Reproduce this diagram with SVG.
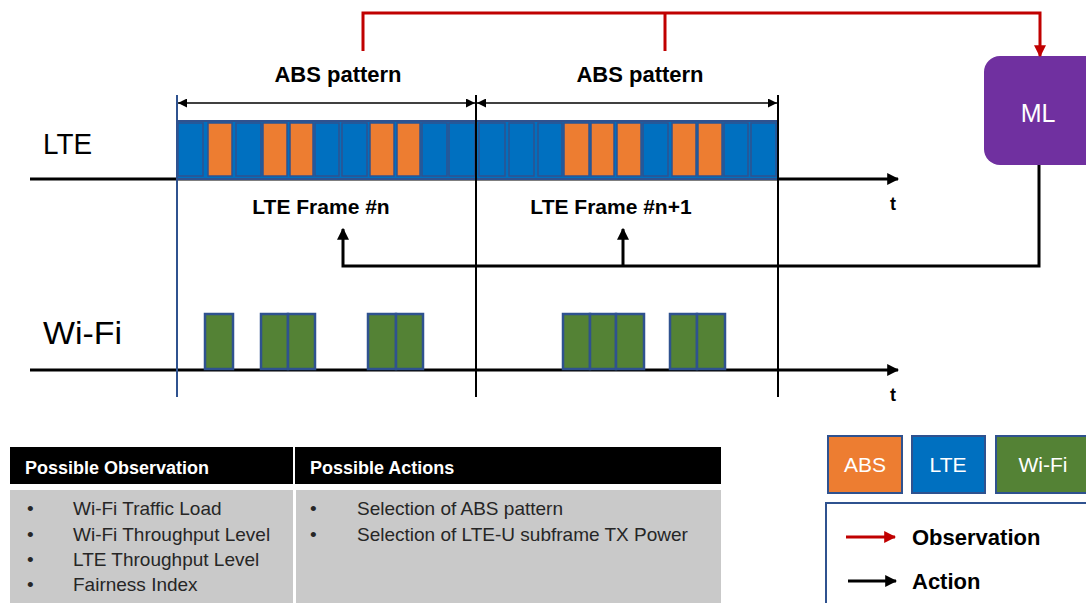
<svg xmlns="http://www.w3.org/2000/svg" width="1086" height="603" viewBox="0 0 1086 603">
  <style>
    .lbl { font-family: "Liberation Sans", Arial, sans-serif; fill: #000; }
    .b { font-weight: bold; }
    .wt { font-family: "Liberation Sans", Arial, sans-serif; fill: #fff; }
    .lte { fill: #0070C0; stroke: #2F528F; stroke-width: 1.5; }
    .abs { fill: #ED7D31; stroke: #2F528F; stroke-width: 1.5; }
    .wifi { fill: #548235; stroke: #2F528F; stroke-width: 2.5; }
    .axis { stroke: #000; stroke-width: 3; fill: none; }
    .obs { stroke: #C00000; stroke-width: 3; fill: none; }
    .act { stroke: #000; stroke-width: 3; fill: none; }
    .tbl { font-family: "Liberation Sans", Arial, sans-serif; font-size: 19px; fill: #262626; }
  </style>
  <defs>
    <marker id="ah" viewBox="0 0 10 10" refX="9" refY="5" markerWidth="4" markerHeight="4" orient="auto">
      <path d="M0,0 L10,5 L0,10 z" fill="#000"/>
    </marker>
    <marker id="ahr" viewBox="0 0 10 10" refX="9" refY="5" markerWidth="4" markerHeight="4" orient="auto">
      <path d="M0,0 L10,5 L0,10 z" fill="#C00000"/>
    </marker>
    <marker id="dim" viewBox="0 0 10 10" refX="10" refY="5" markerWidth="9" markerHeight="9" orient="auto-start-reverse" markerUnits="userSpaceOnUse">
      <path d="M0,0 L10,5 L0,10 z" fill="#000"/>
    </marker>
  </defs>

  <!-- time axes -->
  <g id="axes">
    <line class="axis" x1="30" y1="179" x2="898" y2="179" marker-end="url(#ah)"/>
    <line class="axis" x1="30" y1="370" x2="898" y2="370" marker-end="url(#ah)"/>
    <text class="lbl b" x="890" y="210" font-size="18">t</text>
    <text class="lbl b" x="890" y="401" font-size="18">t</text>
  </g>

  <!-- LTE subframes -->
  <g id="lte-frames">
    <rect x="177" y="121" width="601" height="58" fill="#0070C0" stroke="#2F528F" stroke-width="2"/>
    <rect class="lte" x="178" y="123" width="25" height="53"/>
    <rect class="abs" x="208" y="123" width="24" height="53"/>
    <rect class="lte" x="236" y="123" width="25" height="53"/>
    <rect class="abs" x="263" y="123" width="24" height="53"/>
    <rect class="abs" x="290" y="123" width="23" height="53"/>
    <rect class="lte" x="315" y="123" width="24" height="53"/>
    <rect class="lte" x="342" y="123" width="25" height="53"/>
    <rect class="abs" x="370" y="123" width="24" height="53"/>
    <rect class="abs" x="397" y="123" width="23" height="53"/>
    <rect class="lte" x="422" y="123" width="25" height="53"/>
    <rect class="lte" x="449" y="123" width="26" height="53"/>

    <rect class="lte" x="479" y="123" width="26" height="53"/>
    <rect class="lte" x="509" y="123" width="25" height="53"/>
    <rect class="lte" x="538" y="123" width="24" height="53"/>
    <rect class="abs" x="564" y="123" width="25" height="53"/>
    <rect class="abs" x="591" y="123" width="23" height="53"/>
    <rect class="abs" x="617" y="123" width="24" height="53"/>
    <rect class="lte" x="643" y="123" width="25" height="53"/>
    <rect class="abs" x="672" y="123" width="24" height="53"/>
    <rect class="abs" x="698" y="123" width="24" height="53"/>
    <rect class="lte" x="724" y="123" width="24" height="53"/>
    <rect class="lte" x="751" y="123" width="25" height="53"/>
  </g>

  <!-- Wi-Fi transmissions -->
  <g id="wifi-frames">
    <rect class="wifi" x="205" y="314" width="28" height="55"/>
    <rect class="wifi" x="261" y="314" width="27" height="55"/>
    <rect class="wifi" x="288" y="314" width="27" height="55"/>
    <rect class="wifi" x="368" y="314" width="28" height="55"/>
    <rect class="wifi" x="396" y="314" width="27" height="55"/>
    <rect class="wifi" x="563" y="314" width="27" height="55"/>
    <rect class="wifi" x="590" y="314" width="26" height="55"/>
    <rect class="wifi" x="616" y="314" width="28" height="55"/>
    <rect class="wifi" x="670" y="314" width="27" height="55"/>
    <rect class="wifi" x="697" y="314" width="28" height="55"/>
  </g>

  <!-- frame boundaries and ABS pattern spans -->
  <g id="frame-bounds">
    <line x1="177" y1="95" x2="177" y2="397" stroke="#2F528F" stroke-width="2"/>
    <line x1="476" y1="95" x2="476" y2="397" stroke="#000" stroke-width="2"/>
    <line x1="778" y1="95" x2="778" y2="397" stroke="#000" stroke-width="2"/>
    <line x1="178" y1="103" x2="475" y2="103" stroke="#000" stroke-width="1.5" marker-start="url(#dim)" marker-end="url(#dim)"/>
    <line x1="477" y1="103" x2="777" y2="103" stroke="#000" stroke-width="1.5" marker-start="url(#dim)" marker-end="url(#dim)"/>
    <text class="lbl b" x="338" y="82" font-size="22" text-anchor="middle">ABS pattern</text>
    <text class="lbl b" x="640" y="82" font-size="22" text-anchor="middle">ABS pattern</text>
    <text class="lbl b" x="321" y="214" font-size="21" text-anchor="middle">LTE Frame #n</text>
    <text class="lbl b" x="611" y="214" font-size="21" text-anchor="middle">LTE Frame #n+1</text>
  </g>

  <!-- row labels -->
  <g id="row-labels">
    <text class="lbl" x="43" y="154" font-size="30" textLength="49" lengthAdjust="spacingAndGlyphs">LTE</text>
    <text class="lbl" x="43" y="344" font-size="32" textLength="79" lengthAdjust="spacingAndGlyphs">Wi-Fi</text>
  </g>

  <!-- ML agent -->
  <g id="ml">
    <rect x="984" y="56" width="130" height="109" rx="16" fill="#7030A0"/>
    <text class="wt" x="1038" y="122" font-size="25" text-anchor="middle">ML</text>
  </g>

  <!-- observation and action paths -->
  <g id="connectors">
    <polyline class="obs" points="363,51 363,13 1040,13 1040,56" marker-end="url(#ahr)"/>
    <line class="obs" x1="665" y1="13" x2="665" y2="51"/>
    <polyline class="act" points="1039,165 1039,266 343,266 343,229" marker-end="url(#ah)"/>
    <line class="act" x1="623" y1="266" x2="623" y2="229" marker-end="url(#ah)"/>
  </g>

  <!-- observation / action table -->
  <g id="table">
    <rect x="10" y="447" width="711" height="37" fill="#000"/>
    <line x1="294" y1="447" x2="294" y2="484" stroke="#fff" stroke-width="2"/>
    <rect x="10" y="490" width="283" height="113" fill="#C9C9C9"/>
    <rect x="296" y="490" width="425" height="113" fill="#C9C9C9"/>
    <text class="wt b" x="25" y="474" font-size="18">Possible Observation</text>
    <text class="wt b" x="310" y="474" font-size="18">Possible Actions</text>
    <text class="tbl" x="27" y="515">•</text>
    <text class="tbl" x="73" y="515">Wi-Fi Traffic Load</text>
    <text class="tbl" x="27" y="541">•</text>
    <text class="tbl" x="73" y="541">Wi-Fi Throughput Level</text>
    <text class="tbl" x="27" y="566">•</text>
    <text class="tbl" x="73" y="566">LTE Throughput Level</text>
    <text class="tbl" x="27" y="591">•</text>
    <text class="tbl" x="73" y="591">Fairness Index</text>
    <text class="tbl" x="310" y="515">•</text>
    <text class="tbl" x="357" y="515">Selection of ABS pattern</text>
    <text class="tbl" x="310" y="541">•</text>
    <text class="tbl" x="357" y="541">Selection of LTE-U subframe TX Power</text>
  </g>

  <!-- legend -->
  <g id="legend">
    <rect x="828" y="436" width="74" height="57" fill="#ED7D31" stroke="#2F528F" stroke-width="2"/>
    <rect x="912" y="436" width="73" height="57" fill="#0070C0" stroke="#2F528F" stroke-width="2"/>
    <rect x="996" y="436" width="100" height="57" fill="#548235" stroke="#2F528F" stroke-width="2"/>
    <text class="wt" x="865" y="472" font-size="21" text-anchor="middle">ABS</text>
    <text class="wt" x="948" y="472" font-size="21" text-anchor="middle">LTE</text>
    <text class="wt" x="1043" y="472" font-size="21" text-anchor="middle">Wi-Fi</text>
    <rect x="826" y="503" width="280" height="120" fill="none" stroke="#2F528F" stroke-width="2"/>
    <line x1="846" y1="537" x2="895" y2="537" stroke="#C00000" stroke-width="3" marker-end="url(#ahr)"/>
    <line x1="848" y1="581" x2="896" y2="581" stroke="#000" stroke-width="3" marker-end="url(#ah)"/>
    <text class="lbl b" x="912" y="545" font-size="22">Observation</text>
    <text class="lbl b" x="912" y="589" font-size="22">Action</text>
  </g>
</svg>
